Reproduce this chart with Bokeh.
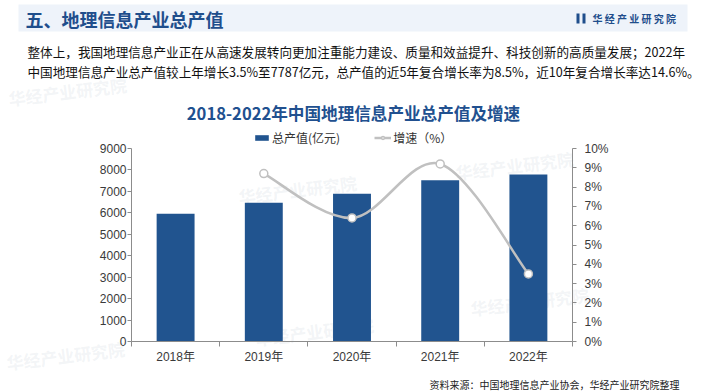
from bokeh.plotting import figure
from bokeh.models import (Range1d, LinearAxis, FixedTicker, Label, BoxAnnotation,
                          Legend, LegendItem)
from bokeh.embed import file_html
from bokeh.resources import INLINE

# ---- data ----
years = ["2018年", "2019年", "2020年", "2021年", "2022年"]
output_value = [5957, 6476, 6890, 7524, 7787]          # 亿元
growth_years = ["2019年", "2020年", "2021年", "2022年"]
growth_rate = [8.7, 6.4, 9.2, 3.5]                     # %
left_ticks = [0, 1000, 2000, 3000, 4000, 5000, 6000, 7000, 8000, 9000]
right_ticks = [0, 1, 2, 3, 4, 5, 6, 7, 8, 9, 10]
VMAX, PMAX = 9000, 10

CJK = "'Noto Sans CJK SC'"
MIX = "'Liberation Sans', 'Noto Sans CJK SC'"
BLUE = "#21548f"
HEAD_BLUE = "#1f4e8c"
GRAY_AX = "#8c8c8c"
LINE_GRAY = "#c0c0c0"

# ---- layout (page pixels; the figure sits at the page's top-left) ----
W, H, M = 704, 392, 0
AX_L, AX_R, AX_T, AX_B = 131, 572, 148, 341      # plot box in page px
ncat = len(years)
ux = (AX_R - AX_L) / ncat                        # px per category
xr = Range1d(0.5 - (AX_L - M) / ux, ncat + 0.5 + (M + W - AX_R) / ux)
uy = (AX_B - AX_T) / VMAX
yr_main = Range1d(-(M + H - AX_B) / uy, VMAX + (AX_T - M) / uy)
up = (AX_B - AX_T) / PMAX
yr_pct = Range1d(-(M + H - AX_B) / up, PMAX + (AX_T - M) / up)

p = figure(width=W, height=H, output_backend="svg", toolbar_location=None,
           x_range=xr, y_range=yr_main, min_border=0,
           min_border_left=0, min_border_right=0, min_border_top=0, min_border_bottom=0,
           x_axis_location=None, y_axis_location=None)
p.outline_line_color = None
p.grid.visible = False
p.background_fill_color = "white"
p.border_fill_color = "white"
p.extra_y_ranges = {"pct": yr_pct}

xpos = [i + 1 for i in range(ncat)]
gx = [years.index(y) + 1 for y in growth_years]

def sx(x): return x - M
def sy(y): return M + H - y

# faint watermarks (under everything), kept inside the canvas
for wx, wy in [(8, 98), (238, 196), (455, 172), (255, 338), (470, 308), (6, 362)]:
    p.add_layout(Label(x=sx(wx), y=sy(wy), x_units="screen", y_units="screen",
                       text="华经产业研究院", text_font=CJK, text_font_size="17px",
                       text_font_style="bold", text_color="#b8c0cc", text_alpha=0.18,
                       text_baseline="middle", angle=0.12, level="underlay"))

def style_axis(ax):
    ax.axis_line_color = GRAY_AX
    ax.major_tick_line_color = GRAY_AX
    ax.major_tick_out = 4
    ax.major_tick_in = 0
    ax.minor_tick_line_color = None
    ax.major_label_text_font = MIX
    ax.major_label_text_font_size = "12px"
    ax.major_label_text_color = "#3a3a3a"

xa = LinearAxis(fixed_location=0, bounds=(0.5, ncat + 0.5),
                ticker=FixedTicker(ticks=xpos, minor_ticks=[x - 0.5 for x in xpos] + [xpos[-1] + 0.5]))
style_axis(xa)
xa.major_tick_line_color = None
xa.minor_tick_line_color = GRAY_AX
xa.minor_tick_out = 5
xa.minor_tick_in = 0
xa.major_label_overrides = {x: y for x, y in zip(xpos, years)}
xa.major_label_standoff = 3
p.add_layout(xa, "below")

ya = LinearAxis(fixed_location=0.5, bounds=(0, VMAX), ticker=FixedTicker(ticks=left_ticks))
style_axis(ya)
ya.major_label_standoff = 1
p.add_layout(ya, "left")

yra = LinearAxis(y_range_name="pct", fixed_location=ncat + 0.5, bounds=(0, PMAX),
                 ticker=FixedTicker(ticks=right_ticks))
style_axis(yra)
yra.major_label_overrides = {t: f"{t}%" for t in right_ticks}
yra.major_label_standoff = 8
p.add_layout(yra, "right")

bars = p.vbar(x=xpos, top=output_value, width=0.43, fill_color=BLUE, line_color=None)

# smooth growth line: Catmull-Rom bezier segments through the data points
n = len(gx)
x0, y0, x1, y1, cx0, cy0, cx1, cy1 = [], [], [], [], [], [], [], []
for i in range(n - 1):
    pxm = gx[i - 1] if i > 0 else gx[i]
    pym = growth_rate[i - 1] if i > 0 else growth_rate[i]
    pxp = gx[i + 2] if i + 2 < n else gx[i + 1]
    pyp = growth_rate[i + 2] if i + 2 < n else growth_rate[i + 1]
    x0.append(gx[i]); y0.append(growth_rate[i])
    x1.append(gx[i + 1]); y1.append(growth_rate[i + 1])
    cx0.append(gx[i] + (gx[i + 1] - pxm) / 6); cy0.append(growth_rate[i] + (growth_rate[i + 1] - pym) / 6)
    cx1.append(gx[i + 1] - (pxp - gx[i]) / 6); cy1.append(growth_rate[i + 1] - (pyp - growth_rate[i]) / 6)
bz = p.bezier(x0=x0, y0=y0, x1=x1, y1=y1, cx0=cx0, cy0=cy0, cx1=cx1, cy1=cy1,
              line_color=LINE_GRAY, line_width=2.5, y_range_name="pct")
pts = p.scatter(x=gx, y=growth_rate, size=8, marker="circle", fill_color="white",
                line_color=LINE_GRAY, line_width=1.5, y_range_name="pct")

# ---- texts / decorations, placed in page px ----
def lab(x, y, text, size, color="#222222", font=CJK, style="normal", align="left"):
    p.add_layout(Label(x=sx(x), y=sy(y), x_units="screen", y_units="screen", text=text,
                       text_font=font, text_font_size=size, text_color=color,
                       text_font_style=style, text_align=align, text_baseline="middle"))

def box(l, r, t, b, color):
    p.add_layout(BoxAnnotation(left=sx(l), right=sx(r), top=sy(t), bottom=sy(b),
                               left_units="screen", right_units="screen",
                               top_units="screen", bottom_units="screen",
                               fill_color=color, fill_alpha=1.0, line_color=None,
                               level="underlay"))

box(18, 687, 4, 31, "#eef3fa")
lab(25, 18, "五、地理信息产业总产值", "18px", color=HEAD_BLUE, style="bold")
box(576, 579, 13, 23, HEAD_BLUE)
box(582, 585, 13, 23, HEAD_BLUE)
lab(592, 18, "华 经 产 业 研 究 院", "10px", color=HEAD_BLUE, style="bold")

lab(27, 51, "整体上，我国地理信息产业正在从高速发展转向更加注重能力建设、质量和效益提升、科技创新的高质量发展；2022年",
    "12.6px", color="#111111")
lab(27, 71, "中国地理信息产业总产值较上年增长3.5%至7787亿元，总产值的近5年复合增长率为8.5%，近10年复合增长率达14.6%。",
    "12.6px", color="#111111")
lab(353, 112, "2018-2022年中国地理信息产业总产值及增速", "16.6px", color="#21508f",
    style="bold", align="center")
lab(679, 384, "资料来源：中国地理信息产业协会，华经产业研究院整理", "10px", color="#222222", align="right")

legend = Legend(items=[LegendItem(label="总产值(亿元)", renderers=[bars]),
                       LegendItem(label="增速（%）", renderers=[bz, pts])],
                orientation="horizontal", location=(sx(253), sy(146)),
                glyph_width=17, glyph_height=7, label_height=14, label_standoff=2,
                spacing=34, padding=0, margin=0, border_line_color=None,
                background_fill_alpha=0,
                label_text_font=CJK, label_text_font_size="12px",
                label_text_color="#333333")
p.add_layout(legend, "center")

open("out.html", "w").write(file_html(p, INLINE))
